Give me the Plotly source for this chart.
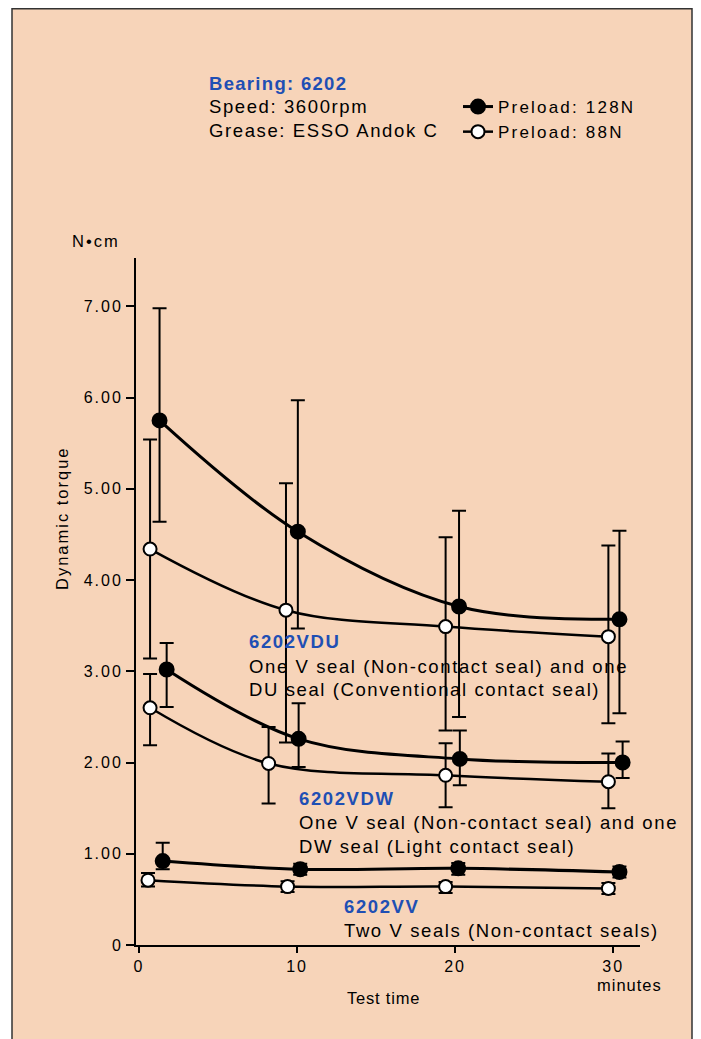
import plotly.graph_objects as go

# ---------------- data ----------------
# 6202VDU
vdu_128_t = [1.3, 10.05, 20.25, 30.4]
vdu_128_y = [5.75, 4.53, 3.71, 3.57]
vdu_128_hi = [6.98, 5.97, 4.76, 4.54]
vdu_128_lo = [4.64, 3.47, 2.50, 2.54]
vdu_88_t = [0.7, 9.3, 19.4, 29.7]
vdu_88_y = [4.34, 3.67, 3.49, 3.38]
vdu_88_hi = [5.54, 5.06, 4.47, 4.38]
vdu_88_lo = [3.14, 2.22, 2.35, 2.43]
# 6202VDW
vdw_128_t = [1.75, 10.1, 20.3, 30.6]
vdw_128_y = [3.02, 2.26, 2.04, 2.00]
vdw_128_hi = [3.31, 2.65, 2.35, 2.23]
vdw_128_lo = [2.61, 1.95, 1.75, 1.83]
vdw_88_t = [0.7, 8.2, 19.4, 29.7]
vdw_88_y = [2.60, 1.99, 1.86, 1.79]
vdw_88_hi = [2.97, 2.39, 2.21, 2.10]
vdw_88_lo = [2.19, 1.55, 1.51, 1.50]
# 6202VV
vv_128_t = [1.5, 10.2, 20.2, 30.4]
vv_128_y = [0.92, 0.83, 0.84, 0.80]
vv_128_hi = [1.12, 0.89, 0.90, 0.86]
vv_128_lo = [0.83, 0.77, 0.77, 0.74]
vv_88_t = [0.57, 9.4, 19.4, 29.7]
vv_88_y = [0.71, 0.64, 0.64, 0.62]
vv_88_hi = [0.79, 0.70, 0.69, 0.68]
vv_88_lo = [0.64, 0.58, 0.57, 0.56]

y_tickvals = [0, 1, 2, 3, 4, 5, 6, 7]
y_ticklabels = ["0", "1.00", "2.00", "3.00", "4.00", "5.00", "6.00", "7.00"]
x_tickvals = [0, 10, 20, 30]
x_ticklabels = ["0", "10", "20", "30"]

legend_128 = "Preload: 128N"
legend_88 = "Preload: 88N"

# ---------------- styling ----------------
FONT = "Liberation Sans, Arial, Helvetica, sans-serif"
BLUE = "#1F4FB4"
BG = "#F7D4B9"
OFF = 8                      # page body margin offset (px)
W, H = 701 - OFF, 1039 - OFF
ML, MR, MT, MB = 136 - OFF, 61, 258 - OFF, 94
PW = W - ML - MR
PH = H - MT - MB


def sp(text, ls):
    return f'<span style="letter-spacing:{ls}px">{text}</span>'


def px(x):
    # x given in page pixels
    return (x - OFF - ML) / PW


def py(y):
    # y given in page pixels
    return (H - MB - (y - OFF)) / PH


fig = go.Figure()

series = [
    (vdu_128_t, vdu_128_y, vdu_128_hi, vdu_128_lo, True, True, legend_128),
    (vdu_88_t, vdu_88_y, vdu_88_hi, vdu_88_lo, False, True, legend_88),
    (vdw_128_t, vdw_128_y, vdw_128_hi, vdw_128_lo, True, False, None),
    (vdw_88_t, vdw_88_y, vdw_88_hi, vdw_88_lo, False, False, None),
    (vv_128_t, vv_128_y, vv_128_hi, vv_128_lo, True, False, None),
    (vv_88_t, vv_88_y, vv_88_hi, vv_88_lo, False, False, None),
]

for t, y, hi, lo, filled, show, name in series:
    fig.add_trace(go.Scatter(
        x=t, y=y,
        mode="lines+markers",
        line=dict(color="black", width=3 if filled else 2.5, shape="spline", smoothing=1.0),
        marker=dict(symbol="circle", size=14 if filled else 13,
                    color="black" if filled else "white",
                    line=dict(color="black", width=2)),
        error_y=dict(type="data", symmetric=False,
                     array=[h - v for h, v in zip(hi, y)],
                     arrayminus=[v - l for v, l in zip(y, lo)],
                     color="black", thickness=2, width=7),
        name=sp(name, 2.2) if name else "",
        showlegend=show,
        legendgroup="f" if filled else "o",
        cliponaxis=False,
    ))

annotations = []


def add_text(x, y, text, size=18.5, color="black", bold=False, ls=1.6, xanchor="left", angle=0):
    t = f"<b>{text}</b>" if bold else text
    annotations.append(dict(
        x=px(x), y=py(y), xref="paper", yref="paper",
        text=sp(t, ls), showarrow=False,
        xanchor=xanchor, yanchor="middle", textangle=angle,
        font=dict(family=FONT, size=size, color=color),
    ))


# header block
add_text(207, 83, "Bearing: 6202", color=BLUE, bold=True, ls=1.3)
add_text(207, 107, "Speed: 3600rpm")
add_text(207, 131, "Grease: ESSO Andok C")

# series labels
add_text(247, 641, "6202VDU", color=BLUE, bold=True)
add_text(247, 666, "One V seal (Non-contact seal) and one")
add_text(247, 689, "DU seal (Conventional contact seal)")
add_text(297, 798, "6202VDW", color=BLUE, bold=True)
add_text(297, 822, "One V seal (Non-contact seal) and one")
add_text(297, 846, "DW seal (Light contact seal)")
add_text(342, 906, "6202VV", color=BLUE, bold=True)
add_text(342, 930, "Two V seals (Non-contact seals)")

# axis texts
add_text(96, 241, "N•cm", size=16.5, ls=2.0, xanchor="center")
add_text(62, 518, "Dynamic torque", size=16.5, ls=2.0, xanchor="center", angle=-90)
add_text(383, 998, "Test time", size=16.5, ls=0.8, xanchor="center")
add_text(629, 985, "minutes", size=16.5, ls=1.0, xanchor="center")

fig.update_layout(
    width=W, height=H, autosize=False,
    margin=dict(l=ML, r=MR, t=MT, b=MB, pad=0),
    paper_bgcolor="white",
    plot_bgcolor="rgba(0,0,0,0)",
    font=dict(family=FONT, size=16, color="black"),
    showlegend=True,
    legend=dict(
        x=px(458), y=py(89), xanchor="left", yanchor="top",
        bgcolor="rgba(0,0,0,0)", borderwidth=0,
        font=dict(family=FONT, size=17, color="black"),
        tracegroupgap=0, itemwidth=30,
    ),
    xaxis=dict(
        range=[-0.19, 31.7], showgrid=False, zeroline=False,
        showline=True, linecolor="black", linewidth=2,
        ticks="outside", ticklen=6, tickwidth=2, tickcolor="black",
        tickvals=x_tickvals, ticktext=[sp(s, 2) for s in x_ticklabels],
        tickfont=dict(family=FONT, size=16), fixedrange=True,
    ),
    yaxis=dict(
        range=[0, 7.53], showgrid=False, zeroline=False,
        showline=True, linecolor="black", linewidth=2,
        ticks="outside", ticklen=8, tickwidth=2, tickcolor="black",
        tickvals=y_tickvals, ticktext=[sp(s, 2) for s in y_ticklabels],
        tickfont=dict(family=FONT, size=16), fixedrange=True,
    ),
    annotations=annotations,
    shapes=[dict(
        type="rect", xref="paper", yref="paper",
        x0=px(12), x1=px(692), y0=py(1060), y1=py(8.8),
        fillcolor=BG, line=dict(color="#333333", width=1.5), layer="below",
    )],
)

fig.write_html("out.html")
